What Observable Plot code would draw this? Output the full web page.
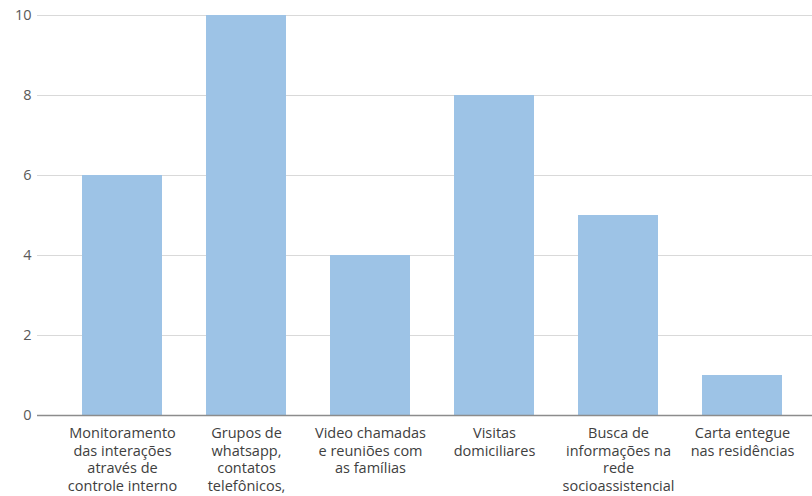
<!DOCTYPE html>
<html><head><meta charset="utf-8">
<script src="https://cdn.jsdelivr.net/npm/d3@7"></script>
<script src="https://cdn.jsdelivr.net/npm/@observablehq/plot@0.6"></script>
<style>body{margin:0;background:#fff;} svg{display:block;}</style>
</head><body><div id="chart"></div>
<script>
const categories = [
  "Monitoramento\ndas interações\natravés de\ncontrole interno",
  "Grupos de\nwhatsapp,\ncontatos\ntelefônicos,",
  "Video chamadas\ne reuniões com\nas famílias",
  "Visitas\ndomiciliares",
  "Busca de\ninformações na\nrede\nsocioassistencial",
  "Carta entegue\nnas residências"
];
const values = [6, 10, 4, 8, 5, 1];
const yTicks = [0, 2, 4, 6, 8, 10];

const data = categories.map((c, i) => ({category: c, value: values[i]}));

const chart = Plot.plot({
  width: 812,
  height: 496,
  marginLeft: 60,
  marginRight: 8,
  marginTop: 15,
  marginBottom: 81,
  style: {fontFamily: "'Open Sans', sans-serif", fontSize: "14.5px", background: "#fff"},
  x: {domain: categories, paddingInner: 0.355, paddingOuter: 0.1775, label: null},
  y: {domain: [0, 10], label: null},
  marks: [
    Plot.ruleY(yTicks.filter(d => d > 0), {stroke: "#d9d9d9", strokeWidth: 1, insetLeft: -23, insetRight: -8}),
    Plot.barY(data, {x: "category", y: "value", fill: "#9dc3e6"}),
    Plot.ruleY([0], {stroke: "#8c8c8c", strokeWidth: 1.3, insetLeft: -23, insetRight: -8}),
    Plot.axisY({ticks: yTicks, tickSize: 0, tickPadding: 29, color: "#595959", label: null}),
    Plot.axisX({tickSize: 0, tickPadding: 10, color: "#404040", lineHeight: 1.21, label: null})
  ]
});
document.getElementById("chart").append(chart);
</script>
</body></html>
